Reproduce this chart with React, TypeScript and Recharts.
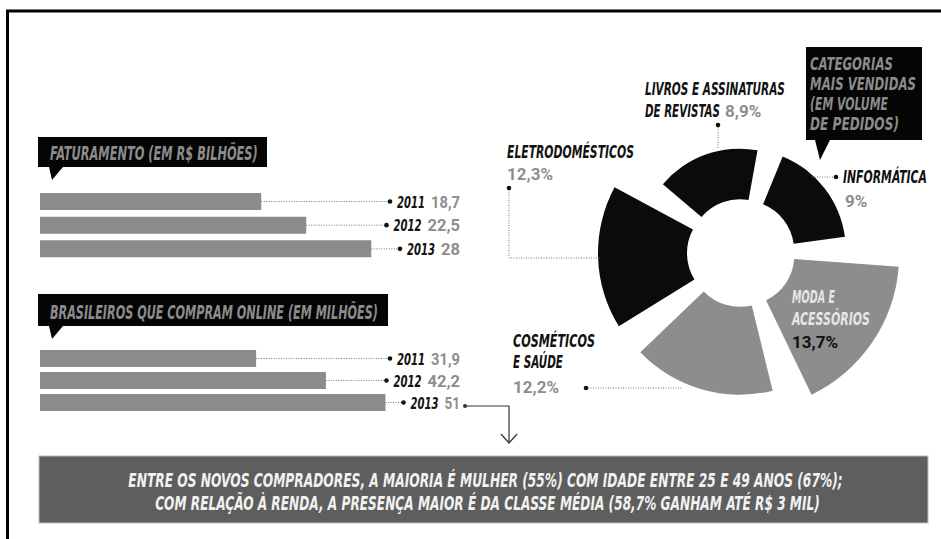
import { useLayoutEffect, useRef, useState } from 'react';
import {
  BarChart, Bar, XAxis, YAxis, LabelList,
  RadialBarChart, RadialBar, PolarAngleAxis, PolarRadiusAxis, Sector, Cell,
} from 'recharts';

const YEARS = ['2011', '2012', '2013'];
const REVENUE = [18.7, 22.5, 28];
const BUYERS = [31.9, 42.2, 51];

// donut order runs counter-clockwise from the upper right
const CATEGORIES = ['Informática', 'Livros e assinaturas de revistas', 'Eletrodomésticos', 'Cosméticos e saúde', 'Moda e acessórios'];
const SHARES = [9, 8.9, 12.3, 12.2, 13.7];

const SLICE_FILL = ['#0b0b0b', '#0b0b0b', '#0b0b0b', '#8d8d8d', '#8d8d8d'];

const NARROW = "'Liberation Sans Narrow', 'DejaVu Sans Condensed', 'Roboto', sans-serif";
const ROUND = "'Roboto', 'DejaVu Sans', sans-serif";
const GREY = '#8e8e8e';
const INK = '#111';

const fmt = (v: number) => String(v).replace('.', ',');
const numWidth = (s: string) => [...s].reduce((w, c) => w + (c === '1' ? 6 : c === ',' ? 4 : 9.5), 0);

const revenueData = YEARS.map((y, i) => ({ year: y, value: REVENUE[i] }));
const buyerData = YEARS.map((y, i) => ({ year: y, value: BUYERS[i] }));
const shareData = CATEGORIES.map((c, i) => ({ name: c, value: SHARES[i] }));

// squeezes a text horizontally so it spans `width` px (the print uses a condensed face)
function FitText({ x, y, width, anchor = 'start', children, ...rest }: any) {
  const ref = useRef<SVGTextElement>(null);
  const [k, setK] = useState(1);
  useLayoutEffect(() => {
    const el = ref.current;
    if (!el) return;
    const natural = el.getComputedTextLength();
    if (natural > 0) setK(width / natural);
  }, [width, children]);
  return (
    <text ref={ref} x={0} y={0} transform={`translate(${x},${y}) scale(${k},1)`} textAnchor={anchor} {...rest}>
      {children}
    </text>
  );
}

const LABEL_RIGHT = 420;

function BarTag(props: any) {
  const vb = props.viewBox && props.viewBox.width !== undefined ? props.viewBox : props;
  const { x, y, width, height } = vb;
  const mid = y + height / 2;
  const val = fmt(props.value);
  const vw = numWidth(val);
  const valX = LABEL_RIGHT - vw;
  const yearX = valX - 6 - 28;
  const dotX = yearX - 7;
  return (
    <g>
      <line x1={x + width} y1={mid} x2={dotX} y2={mid} stroke="#777" strokeDasharray="1 1.5" />
      <circle cx={dotX} cy={mid} r={2.3} fill={INK} />
      <FitText x={yearX} y={mid + 6} width={28} fontFamily={NARROW} fontSize={16} fontWeight={700}
        fontStyle="italic" fill={INK}>{YEARS[props.index]}</FitText>
      <FitText x={valX} y={mid + 6} width={vw} fontFamily={ROUND} fontSize={16} fontWeight={700}
        fill={GREY}>{val}</FitText>
    </g>
  );
}

function YearBars({ data, max, top, height }: { data: any[]; max: number; top: number; height: number }) {
  return (
    <div style={{ position: 'absolute', left: 40, top, width: 440, height }}>
      <BarChart width={440} height={height} data={data} layout="vertical"
        margin={{ top: 0, right: 20, bottom: 0, left: 0 }}>
        <XAxis type="number" domain={[0, max]} hide />
        <YAxis type="category" dataKey="year" hide />
        <Bar dataKey="value" fill="#8b8b8b" barSize={17} isAnimationActive={false}>
          <LabelList dataKey="value" content={(p: any) => <BarTag {...p} />} />
        </Bar>
      </BarChart>
    </div>
  );
}

const EXPLODE = 4;
const HOLE = 50;

function Slice(props: any) {
  const { cx, cy, startAngle, endAngle, outerRadius, payload } = props;
  const mid = ((startAngle + endAngle) / 2) * Math.PI / 180;
  const idx = CATEGORIES.indexOf(payload?.name);
  return (
    <Sector
      cx={cx + Math.cos(mid) * EXPLODE}
      cy={cy - Math.sin(mid) * EXPLODE}
      innerRadius={HOLE}
      outerRadius={outerRadius}
      startAngle={startAngle}
      endAngle={endAngle}
      fill={SLICE_FILL[idx] ?? '#0b0b0b'}
    />
  );
}

function Title({ x, y, w, h, text, tl }: any) {
  return (
    <g>
      <rect x={x} y={y} width={w} height={h} fill="#050505" />
      <polygon points={`${x + 11},${y + h} ${x + 25},${y + h} ${x + 14},${y + h + 13}`} fill="#050505" />
      <FitText x={x + 12} y={y + h - 7} width={tl} fontFamily={NARROW} fontSize={20} fontWeight={700}
        fontStyle="italic" fill="#8c8c8c">{text}</FitText>
    </g>
  );
}

const lab = { fontFamily: NARROW, fontSize: 17, fontWeight: 700, fontStyle: 'italic' as const, fill: INK };
const pct = { fontFamily: ROUND, fontSize: 17, fontWeight: 700, fill: GREY };
const dotted = { stroke: '#777', strokeDasharray: '1 1.5', fill: 'none' };

export default function App() {
  return (
    <div style={{ position: 'absolute', left: 0, top: 0, width: 941, height: 539, background: '#fff', overflow: 'hidden' }}>
      <YearBars data={revenueData} max={35.5} top={190} height={71} />
      <YearBars data={buyerData} max={62} top={347} height={66} />

      <div style={{ position: 'absolute', left: 531, top: 53, width: 420, height: 400 }}>
        <RadialBarChart width={420} height={400} data={shareData} layout="centric"
          cx={210} cy={200} innerRadius={0} outerRadius={169.5}
          startAngle={74} endAngle={434} barCategoryGap="8%">
          <PolarAngleAxis type="category" dataKey="name" tick={false} axisLine={false} tickLine={false} />
          <PolarRadiusAxis type="number" domain={[0, 15]} tick={false} axisLine={false} tickLine={false} />
          <RadialBar dataKey="value" shape={(p: any) => <Slice {...p} />} isAnimationActive={false}>
            {shareData.map((d, i) => <Cell key={d.name} fill={SLICE_FILL[i]} />)}
          </RadialBar>
        </RadialBarChart>
      </div>

      <svg width={941} height={539} style={{ position: 'absolute', left: 0, top: 0, pointerEvents: 'none' }}>
        <line x1={6} y1={11} x2={941} y2={11} stroke="#000" strokeWidth={3} />
        <line x1={7.5} y1={10} x2={7.5} y2={539} stroke="#000" strokeWidth={3} />

        <Title x={38} y={137} w={229} h={30} text="FATURAMENTO (EM R$ BILHÕES)" tl={208} />
        <Title x={38} y={294} w={350} h={32} text="BRASILEIROS QUE COMPRAM ONLINE (EM MILHÕES)" tl={328} />

        {/* categories box */}
        <rect x={806} y={47} width={116} height={93} fill="#050505" />
        <polygon points="815,140 830,140 820,160" fill="#050505" />
        {['CATEGORIAS', 'MAIS VENDIDAS', '(EM VOLUME', 'DE PEDIDOS)'].map((t, i) => (
          <FitText key={t} x={810} y={70 + i * 20} width={[83, 106, 78, 89][i]} fontFamily={NARROW} fontSize={18}
            fontWeight={700} fontStyle="italic" fill="#8c8c8c">{t}</FitText>
        ))}

        {/* livros */}
        <FitText x={645} y={95} width={140} {...lab}>LIVROS E ASSINATURAS</FitText>
        <FitText x={645} y={117} width={75} {...lab}>DE REVISTAS</FitText>
        <text x={725} y={117} {...pct}>{fmt(SHARES[1])}%</text>
        <circle cx={718} cy={125} r={2.3} fill={INK} />
        <line x1={718} y1={127} x2={718} y2={148} {...dotted} />

        {/* eletro */}
        <FitText x={507} y={158} width={127} {...lab}>ELETRODOMÉSTICOS</FitText>
        <text x={507} y={180} {...pct}>{fmt(SHARES[2])}%</text>
        <circle cx={509} cy={188} r={2.3} fill={INK} />
        <polyline points="509,190 509,258 601,258" {...dotted} />

        {/* informatica */}
        <FitText x={843} y={183} width={84} {...lab}>INFORMÁTICA</FitText>
        <text x={845} y={207} {...pct}>{fmt(SHARES[0])}%</text>
        <circle cx={836} cy={177} r={2.3} fill={INK} />
        <line x1={812} y1={177} x2={834} y2={177} {...dotted} />

        {/* moda */}
        <FitText x={792} y={303} width={43} {...lab} fill="#e6e6e6">MODA E</FitText>
        <FitText x={792} y={325} width={78} {...lab} fill="#e6e6e6">ACESSÓRIOS</FitText>
        <text x={792} y={348} {...pct} fill={INK}>{fmt(SHARES[4])}%</text>

        {/* cosmeticos */}
        <FitText x={513} y={347} width={82} {...lab}>COSMÉTICOS</FitText>
        <FitText x={513} y={368} width={50} {...lab}>E SAÚDE</FitText>
        <text x={513} y={393} {...pct}>{fmt(SHARES[3])}%</text>
        <circle cx={586} cy={388} r={2.3} fill={INK} />
        <line x1={588} y1={388} x2={683} y2={388} {...dotted} />

        {/* arrow from 51 down to the note */}
        <circle cx={465} cy={406} r={2} fill="#333" />
        <polyline points="465,406 509,406 509,443" stroke="#333" strokeWidth={1.2} fill="none" />
        <polyline points="501,434 509,443 517,434" stroke="#333" strokeWidth={1.2} fill="none" />

        {/* note */}
        <rect x={39} y={456} width={889} height={67} fill="#5e5e5e" stroke="#bdbdbd" strokeWidth={1} />
        <FitText x={485.5} y={487} width={715} anchor="middle" fontFamily={NARROW} fontSize={19} fontWeight={700}
          fontStyle="italic" fill="#f2f2f2">
          ENTRE OS NOVOS COMPRADORES, A MAIORIA É MULHER (55%) COM IDADE ENTRE 25 E 49 ANOS (67%);
        </FitText>
        <FitText x={487.5} y={510} width={665} anchor="middle" fontFamily={NARROW} fontSize={19} fontWeight={700}
          fontStyle="italic" fill="#f2f2f2">
          COM RELAÇÃO À RENDA, A PRESENÇA MAIOR É DA CLASSE MÉDIA (58,7% GANHAM ATÉ R$ 3 MIL)
        </FitText>
      </svg>
    </div>
  );
}
